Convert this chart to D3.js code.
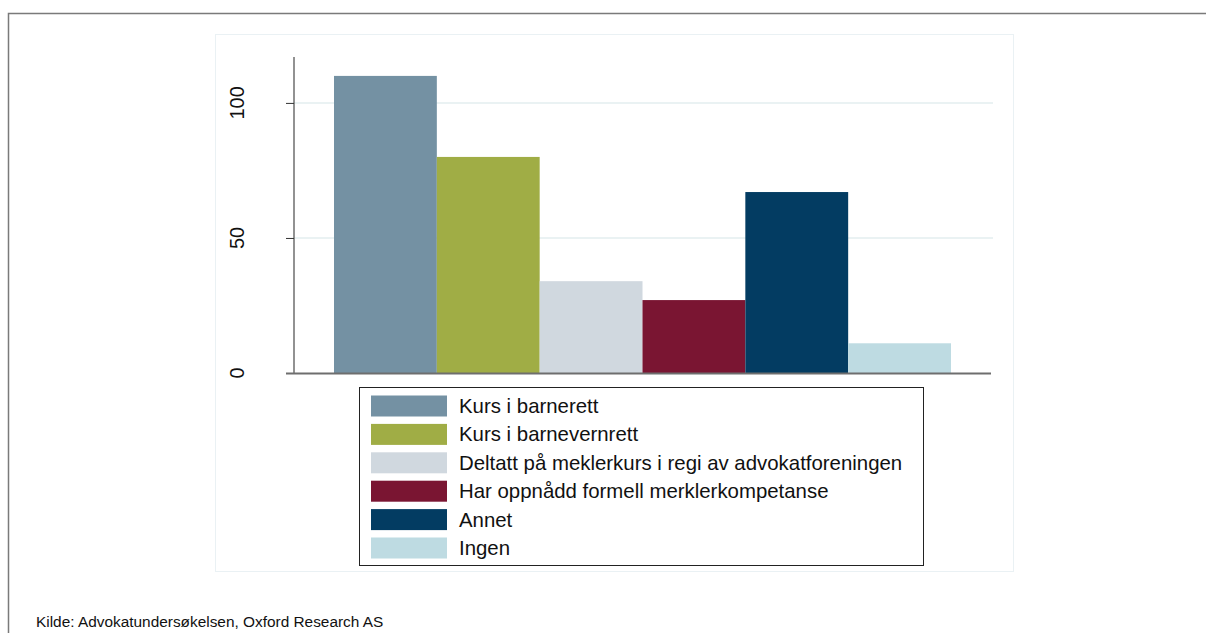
<!DOCTYPE html>
<html>
<head>
<meta charset="utf-8">
<script src="https://cdn.jsdelivr.net/npm/d3@7"></script>
<style>
  body { margin: 0; background: #fff; }
  text { font-family: "Liberation Sans", Arial, sans-serif; }
</style>
</head>
<body>
<script>
const categories = [
  "Kurs i barnerett",
  "Kurs i barnevernrett",
  "Deltatt på meklerkurs i regi av advokatforeningen",
  "Har oppnådd formell merklerkompetanse",
  "Annet",
  "Ingen"
];
const values = [110, 80, 34, 27, 67, 11];
const colors = ["#7491a3", "#a0ad45", "#d0d8df", "#7a1532", "#033c62", "#bedbe2"];
const yTicks = [0, 50, 100];
const source = "Kilde: Advokatundersøkelsen, Oxford Research AS";

const width = 1206,
  height = 633;

const svg = d3
  .select("body")
  .append("svg")
  .attr("width", width)
  .attr("height", height);

// outer frame (only top + left visible)
svg.append("path")
  .attr("d", `M8.5,${height} V13.5 H${width}`)
  .attr("fill", "none")
  .attr("stroke", "#7a7a7a")
  .attr("stroke-width", 1.5);

// faint plot region box
svg.append("rect")
  .attr("x", 215.5).attr("y", 34.5)
  .attr("width", 798).attr("height", 537)
  .attr("fill", "none")
  .attr("stroke", "#eaf1f4");

const plot = { left: 294, right: 991, top: 57, bottom: 373 };

const y = d3.scaleLinear().domain([0, 117]).range([plot.bottom, plot.top]);
const x = d3.scaleBand()
  .domain(categories)
  .range([334, 951])
  .padding(0);

// gridlines
svg.append("g")
  .selectAll("line")
  .data(yTicks.filter((d) => d > 0))
  .join("line")
  .attr("x1", plot.left).attr("x2", plot.right + 2)
  .attr("y1", (d) => y(d)).attr("y2", (d) => y(d))
  .attr("stroke", "#eaf2f3")
  .attr("stroke-width", 2);

// bars
svg.append("g")
  .selectAll("rect")
  .data(values)
  .join("rect")
  .attr("x", (d, i) => x(categories[i]))
  .attr("y", (d) => y(d))
  .attr("width", x.bandwidth())
  .attr("height", (d) => y(0) - y(d))
  .attr("fill", (d, i) => colors[i]);

// y axis
const yAxis = svg.append("g")
  .attr("transform", `translate(${plot.left},0)`)
  .call(d3.axisLeft(y).tickValues(yTicks).tickSize(8).tickPadding(0).tickFormat((d) => ""));
yAxis.select(".domain").attr("stroke", "#6e6e6e").attr("stroke-width", 1.5)
  .attr("d", `M0,${plot.top}V${plot.bottom}`);
yAxis.selectAll(".tick line").attr("stroke", "#333");

svg.append("g")
  .selectAll("text")
  .data(yTicks)
  .join("text")
  .attr("transform", (d) => `translate(${plot.left - 50},${y(d)}) rotate(-90)`)
  .attr("text-anchor", "middle")
  .attr("font-size", 20)
  .attr("fill", "#111")
  .text((d) => d);

// x axis line
svg.append("line")
  .attr("x1", plot.left - 8).attr("x2", plot.right)
  .attr("y1", plot.bottom + 0.5).attr("y2", plot.bottom + 0.5)
  .attr("stroke", "#6e6e6e")
  .attr("stroke-width", 2);

// legend
const legend = svg.append("g");
legend.append("rect")
  .attr("x", 359.5).attr("y", 387.5)
  .attr("width", 564).attr("height", 178)
  .attr("fill", "#fff")
  .attr("stroke", "#222");

const rowY = d3.scalePoint().domain(categories).range([406, 548]);
const items = legend.selectAll("g.item")
  .data(categories)
  .join("g")
  .attr("class", "item")
  .attr("transform", (d) => `translate(0,${rowY(d)})`);
items.append("rect")
  .attr("x", 371).attr("y", -10.5)
  .attr("width", 76).attr("height", 21)
  .attr("fill", (d, i) => colors[i]);
items.append("text")
  .attr("x", 459).attr("y", 7)
  .attr("font-size", 20.4)
  .attr("fill", "#111")
  .text((d) => d);

// source note
svg.append("text")
  .attr("x", 36).attr("y", 627)
  .attr("font-size", 15.4)
  .attr("fill", "#111")
  .text(source);
</script>
</body>
</html>
